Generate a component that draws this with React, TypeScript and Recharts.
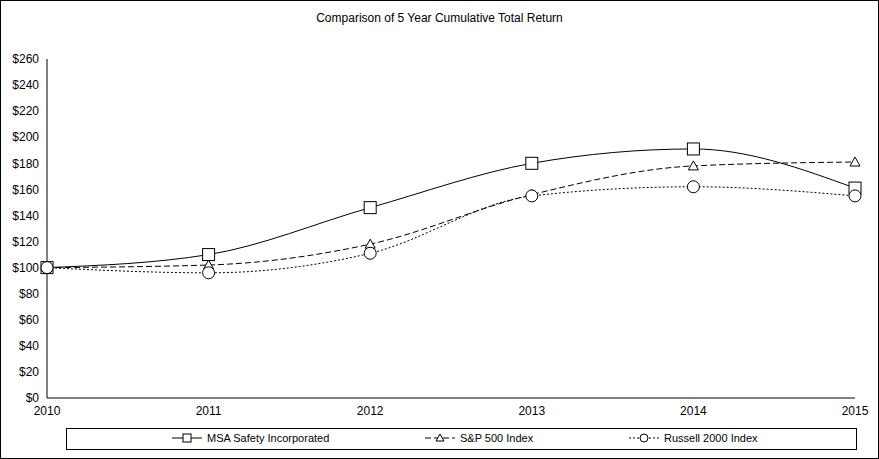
import React from 'react';
import { LineChart, Line, XAxis, YAxis } from 'recharts';

const years = ['2010', '2011', '2012', '2013', '2014', '2015'];
const msa = [100, 110, 146, 180, 191, 161];
const sp500 = [100, 102, 118, 156, 178, 181];
const russell = [100, 96, 111, 155, 162, 155];
const yTicks = [0, 20, 40, 60, 80, 100, 120, 140, 160, 180, 200, 220, 240, 260];

const data = years.map((y, i) => ({ year: y, msa: msa[i], sp: sp500[i], rus: russell[i] }));

const font = 'Arial, "Liberation Sans", sans-serif';

function Square(p: any) {
  return <rect x={p.cx - 6} y={p.cy - 6} width={12} height={12} fill="#fff" stroke="#000" strokeWidth={1} />;
}
function Tri(p: any) {
  return <path d={`M${p.cx},${p.cy - 5}L${p.cx + 5},${p.cy + 4}L${p.cx - 5},${p.cy + 4}Z`} fill="#fff" stroke="#000" strokeWidth={1} />;
}
function Circ(p: any) {
  return <circle cx={p.cx} cy={p.cy} r={6} fill="#fff" stroke="#000" strokeWidth={1} />;
}

function LegendItem({ x, label, dash, shape }: { x: number; label: string; dash?: string; shape: string }) {
  return (
    <div style={{ position: 'absolute', left: x, top: 2, display: 'flex', alignItems: 'center', fontSize: 11 }}>
      <svg width={32} height={14}>
        <line x1={0} y1={7} x2={30} y2={7} stroke="#000" strokeDasharray={dash} />
        {shape === 's' && <rect x={11} y={3} width={8} height={8} fill="#fff" stroke="#000" />}
        {shape === 't' && <path d="M15,3L19,10L11,10Z" fill="#fff" stroke="#000" />}
        {shape === 'c' && <circle cx={15} cy={7} r={4} fill="#fff" stroke="#000" />}
      </svg>
      <span style={{ marginLeft: 3 }}>{label}</span>
    </div>
  );
}

export default function App() {
  return (
    <div style={{ position: 'absolute', left: 0, top: 0, width: 877, height: 457, border: '1px solid #000', background: '#fff', fontFamily: font }}>
      <div style={{ position: 'absolute', top: 10, width: '100%', textAlign: 'center', fontSize: 12 }}>
        Comparison of 5 Year Cumulative Total Return
      </div>
      <LineChart width={877} height={457} data={data} margin={{ top: 58, right: 23, bottom: 40, left: 6 }}>
        <XAxis dataKey="year" tickLine={false} stroke="#000" tick={{ fill: '#000', fontSize: 12 }} height={20} padding={{ left: 0, right: 0 }} />
        <YAxis domain={[0, 260]} ticks={yTicks} tickFormatter={(v) => `$${v}`} tickLine={false} stroke="#000" tick={{ fill: '#000', fontSize: 12 }} width={40} interval={0} />
        <Line dataKey="msa" type="monotone" stroke="#000" strokeWidth={1} dot={<Square />} isAnimationActive={false} />
        <Line dataKey="sp" type="monotone" stroke="#000" strokeWidth={1} strokeDasharray="6 3" dot={<Tri />} isAnimationActive={false} />
        <Line dataKey="rus" type="monotone" stroke="#000" strokeWidth={1} strokeDasharray="2 2" dot={<Circ />} isAnimationActive={false} />
      </LineChart>
      <div style={{ position: 'absolute', left: 65, top: 427, width: 789, height: 20, border: '1px solid #000' }}>
        <LegendItem x={105} label="MSA Safety Incorporated" shape="s" />
        <LegendItem x={358} label="S&P 500 Index" dash="6 3" shape="t" />
        <LegendItem x={562} label="Russell 2000 Index" dash="2 2" shape="c" />
      </div>
    </div>
  );
}
